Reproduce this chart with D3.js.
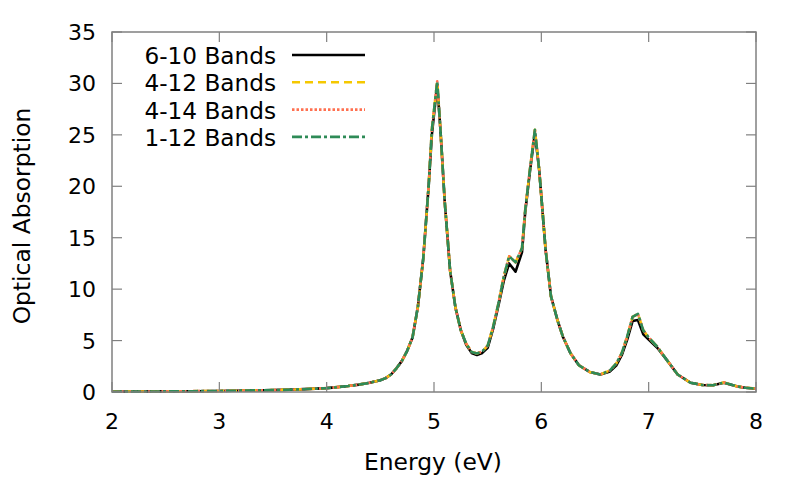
<!DOCTYPE html>
<html lang="en">
  <head>
    <meta charset="utf-8">
    <title>Optical Absorption</title>
    <script src="https://d3js.org/d3.v7.min.js"></script>
    <style>
      body { margin: 0; background: white; }
      text { font-family: "DejaVu Sans", sans-serif; fill: black; }
      .frame { fill: none; stroke: #808080; stroke-width: 1.5px; }
      .tick { stroke: #808080; stroke-width: 1.2px; }
    </style>
  </head>
  <body>
    <svg id="chart" width="800" height="480" xmlns="http://www.w3.org/2000/svg"></svg>
    <script>
      // data
      let energy = [2.0, 2.25, 2.5, 2.75, 3.0, 3.25, 3.5, 3.75, 4.0, 4.1, 4.2, 4.3, 4.4, 4.5,
        4.55, 4.6, 4.65, 4.7, 4.75, 4.8, 4.85, 4.9, 4.95, 4.98, 5.03, 5.06, 5.1, 5.15, 5.2,
        5.25, 5.3, 5.35, 5.4, 5.45, 5.5, 5.55, 5.6, 5.65, 5.7, 5.76, 5.82, 5.85, 5.89, 5.94,
        5.98, 6.01, 6.04, 6.09, 6.15, 6.2, 6.27, 6.35, 6.45, 6.55, 6.64, 6.7, 6.75, 6.8,
        6.85, 6.9, 6.95, 7.0, 7.08, 7.17, 7.27, 7.39, 7.5, 7.6, 7.7, 7.82, 7.9, 8.0];

      let bands6to10 = [0.03, 0.04, 0.06, 0.08, 0.1, 0.14, 0.18, 0.26, 0.38, 0.47, 0.58, 0.72, 0.9, 1.15,
        1.35, 1.7, 2.3, 3.0, 4.0, 5.3, 8.3, 13.0, 20.0, 25.0, 29.9, 25.5, 18.5, 11.8, 8.2,
        6.0, 4.6, 3.8, 3.6, 3.8, 4.3, 6.1, 8.4, 10.8, 12.5, 11.7, 13.6, 17.5, 21.1, 25.2,
        21.6, 17.7, 13.8, 9.3, 7.0, 5.4, 3.8, 2.6, 1.95, 1.7, 2.0, 2.6, 3.6, 5.1,
        6.9, 7.0, 5.6, 5.1, 4.3, 3.1, 1.7, 0.9, 0.68, 0.66, 0.9, 0.55, 0.42, 0.32];

      let bands4to12 = [0.03, 0.04, 0.06, 0.08, 0.1, 0.14, 0.18, 0.26, 0.38, 0.47, 0.58, 0.72, 0.9, 1.15,
        1.35, 1.7, 2.3, 3.0, 4.0, 5.3, 8.3, 13.0, 20.0, 25.5, 30.2, 25.5, 18.5, 11.8, 8.2,
        6.0, 4.7, 3.9, 3.75, 3.95, 4.5, 6.3, 8.6, 11.2, 13.2, 12.6, 14.0, 17.7, 21.3, 25.5,
        21.6, 17.7, 13.8, 9.3, 7.0, 5.4, 3.8, 2.6, 1.95, 1.7, 2.1, 2.8, 3.8, 5.4,
        7.3, 7.6, 6.0, 5.3, 4.4, 3.1, 1.7, 0.9, 0.68, 0.66, 0.92, 0.55, 0.42, 0.32];

      let bands4to14 = [0.03, 0.04, 0.06, 0.08, 0.1, 0.14, 0.18, 0.26, 0.38, 0.47, 0.58, 0.72, 0.9, 1.15,
        1.35, 1.7, 2.3, 3.0, 4.0, 5.3, 8.3, 13.0, 20.0, 25.5, 30.2, 25.5, 18.5, 11.8, 8.2,
        6.0, 4.7, 3.9, 3.75, 3.95, 4.5, 6.3, 8.6, 11.2, 13.2, 12.6, 14.0, 17.7, 21.3, 25.5,
        21.6, 17.7, 13.8, 9.3, 7.0, 5.4, 3.8, 2.6, 1.95, 1.7, 2.1, 2.8, 3.8, 5.4,
        7.3, 7.6, 6.0, 5.3, 4.4, 3.1, 1.7, 0.9, 0.68, 0.66, 0.92, 0.55, 0.42, 0.32];

      let bands1to12 = [0.03, 0.04, 0.06, 0.08, 0.1, 0.14, 0.18, 0.26, 0.38, 0.47, 0.58, 0.72, 0.9, 1.15,
        1.35, 1.7, 2.3, 3.0, 4.0, 5.3, 8.3, 13.0, 20.0, 25.5, 30.2, 25.5, 18.5, 11.8, 8.2,
        6.0, 4.7, 3.9, 3.75, 3.95, 4.5, 6.3, 8.6, 11.2, 13.2, 12.6, 14.0, 17.7, 21.3, 25.5,
        21.6, 17.7, 13.8, 9.3, 7.0, 5.4, 3.8, 2.6, 1.95, 1.7, 2.1, 2.8, 3.8, 5.4,
        7.3, 7.6, 6.0, 5.3, 4.4, 3.1, 1.7, 0.9, 0.68, 0.66, 0.92, 0.55, 0.42, 0.32];

      let seriesNames = ['6-10 Bands', '4-12 Bands', '4-14 Bands', '1-12 Bands'];
      let xTicks = [2, 3, 4, 5, 6, 7, 8];
      let yTicks = [0, 5, 10, 15, 20, 25, 30, 35];

      let series = [
        {name: seriesNames[0], values: bands6to10, color: 'black', dash: null},
        {name: seriesNames[1], values: bands4to12, color: '#f5c800', dash: '8,5'},
        {name: seriesNames[2], values: bands4to14, color: '#ff7050', dash: '2.5,2'},
        {name: seriesNames[3], values: bands1to12, color: '#2e8b57', dash: '10,3,3,3'}
      ];

      let plotLeft = 112, plotRight = 756, plotTop = 32, plotBottom = 392;

      let xScale = d3.scaleLinear().domain([2, 8]).range([plotLeft, plotRight]);
      let yScale = d3.scaleLinear().domain([0, 35]).range([plotBottom, plotTop]);

      let svg = d3.select('#chart');

      // curves
      let line = d3.line()
        .x(function(d, i) { return xScale(energy[i]); })
        .y(function(d) { return yScale(d); });

      svg.selectAll('path.curve')
        .data(series)
        .join('path')
        .attr('class', 'curve')
        .attr('d', function(d) { return line(d.values); })
        .attr('fill', 'none')
        .attr('stroke', function(d) { return d.color; })
        .attr('stroke-width', 2.6)
        .attr('stroke-linejoin', 'round')
        .attr('stroke-dasharray', function(d) { return d.dash; });

      // frame and ticks (inward, mirrored like gnuplot)
      svg.append('rect')
        .attr('class', 'frame')
        .attr('x', plotLeft).attr('y', plotTop)
        .attr('width', plotRight - plotLeft).attr('height', plotBottom - plotTop);

      let tickLen = 10;
      xTicks.forEach(function(t) {
        svg.append('line').attr('class', 'tick')
          .attr('x1', xScale(t)).attr('x2', xScale(t))
          .attr('y1', plotBottom).attr('y2', plotBottom - tickLen);
        svg.append('line').attr('class', 'tick')
          .attr('x1', xScale(t)).attr('x2', xScale(t))
          .attr('y1', plotTop).attr('y2', plotTop + tickLen);
        svg.append('text')
          .attr('x', xScale(t)).attr('y', 429)
          .attr('text-anchor', 'middle')
          .attr('font-size', 22)
          .text(t);
      });
      yTicks.forEach(function(t) {
        svg.append('line').attr('class', 'tick')
          .attr('x1', plotLeft).attr('x2', plotLeft + tickLen)
          .attr('y1', yScale(t)).attr('y2', yScale(t));
        svg.append('line').attr('class', 'tick')
          .attr('x1', plotRight).attr('x2', plotRight - tickLen)
          .attr('y1', yScale(t)).attr('y2', yScale(t));
        svg.append('text')
          .attr('x', 96).attr('y', yScale(t) + 8)
          .attr('text-anchor', 'end')
          .attr('font-size', 22)
          .text(t);
      });

      // axis titles
      svg.append('text')
        .attr('x', 433).attr('y', 470)
        .attr('text-anchor', 'middle')
        .attr('font-size', 23.4)
        .text('Energy (eV)');
      svg.append('text')
        .attr('transform', 'translate(30,216) rotate(-90)')
        .attr('text-anchor', 'middle')
        .attr('font-size', 23.4)
        .text('Optical Absorption');

      // legend
      let legend = svg.selectAll('g.legend')
        .data(series)
        .join('g')
        .attr('class', 'legend')
        .attr('transform', function(d, i) { return 'translate(0,' + (55 + i * 27.3) + ')'; });
      legend.append('text')
        .attr('x', 276).attr('y', 9)
        .attr('text-anchor', 'end')
        .attr('font-size', 23.2)
        .text(function(d) { return d.name; });
      legend.append('line')
        .attr('x1', 292).attr('x2', 365)
        .attr('y1', 0).attr('y2', 0)
        .attr('stroke', function(d) { return d.color; })
        .attr('stroke-width', 2.6)
        .attr('stroke-dasharray', function(d) { return d.dash; });
    </script>
  </body>
</html>
